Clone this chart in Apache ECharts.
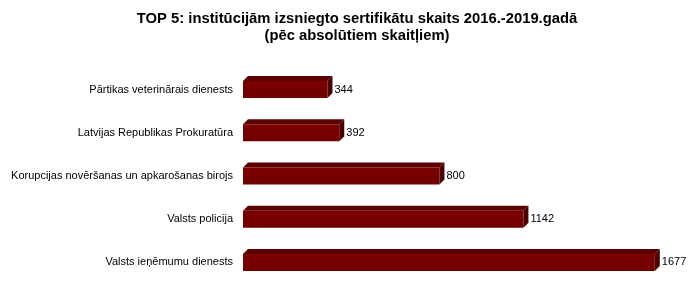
<!DOCTYPE html>
<html>
<head>
<meta charset="utf-8">
<script src="https://cdn.jsdelivr.net/npm/echarts@6/dist/echarts.min.js"></script>
<style>
  html, body { margin: 0; padding: 0; background: #fff; }
  #chart { width: 700px; height: 289px; }
</style>
</head>
<body>
<div id="chart"></div>
<script>
// bottom to top
var categories = [
  "Valsts ieņēmumu dienests",
  "Valsts policija",
  "Korupcijas novēršanas un apkarošanas birojs",
  "Latvijas Republikas Prokuratūra",
  "Pārtikas veterinārais dienests"
];
var values = [1677, 1142, 800, 392, 344];

var depth = 5;
var barH = 17;

var chart = echarts.init(document.getElementById("chart"));

var option = {
  animation: false,
  title: {
    text: "TOP 5: institūcijām izsniegto sertifikātu skaits 2016.-2019.gadā\n(pēc absolūtiem skaitļiem)",
    left: 352,
    textAlign: "center",
    top: 5,
    textStyle: {
      fontFamily: "Liberation Sans",
      fontSize: 14.8,
      fontWeight: "bold",
      color: "#000",
      lineHeight: 17.5
    }
  },
  grid: {
    left: 243,
    right: 15,
    top: 68,
    bottom: 5,
    containLabel: false
  },
  xAxis: {
    type: "value",
    min: 0,
    max: 1800,
    show: false
  },
  yAxis: {
    type: "category",
    data: categories,
    axisLine: { show: false },
    axisTick: { show: false },
    axisLabel: {
      margin: 10,
      fontFamily: "Liberation Sans",
      fontSize: 11,
      color: "#000"
    }
  },
  series: [
    {
      type: "bar",
      data: values,
      barWidth: barH,
      itemStyle: {
        color: new echarts.graphic.LinearGradient(0, 0, 0, 1, [
          { offset: 0, color: "#7e0000" },
          { offset: 1, color: "#6e0000" }
        ])
      },
      label: {
        show: true,
        position: "right",
        distance: depth + 2,
        fontFamily: "Liberation Sans",
        fontSize: 11,
        color: "#000"
      },
      z: 2
    },
    {
      // 3D top and side faces
      type: "custom",
      data: values.map(function (v, i) { return [v, i]; }),
      encode: { x: 0, y: 1 },
      z: 3,
      renderItem: function (params, api) {
        var end = api.coord([api.value(0), api.value(1)]);
        var start = api.coord([0, api.value(1)]);
        var top = end[1] - barH / 2;
        var bottom = end[1] + barH / 2;
        return {
          type: "group",
          children: [
            {
              type: "polygon",
              shape: {
                points: [
                  [start[0], top],
                  [start[0] + depth, top - depth],
                  [end[0] + depth, top - depth],
                  [end[0], top]
                ]
              },
              style: { fill: "#5c0000" }
            },
            {
              type: "polygon",
              shape: {
                points: [
                  [end[0], top],
                  [end[0] + depth, top - depth],
                  [end[0] + depth, bottom - depth],
                  [end[0], bottom]
                ]
              },
              style: { fill: "#4a0000" }
            }
          ]
        };
      }
    }
  ]
};

chart.setOption(option);
</script>
</body>
</html>
